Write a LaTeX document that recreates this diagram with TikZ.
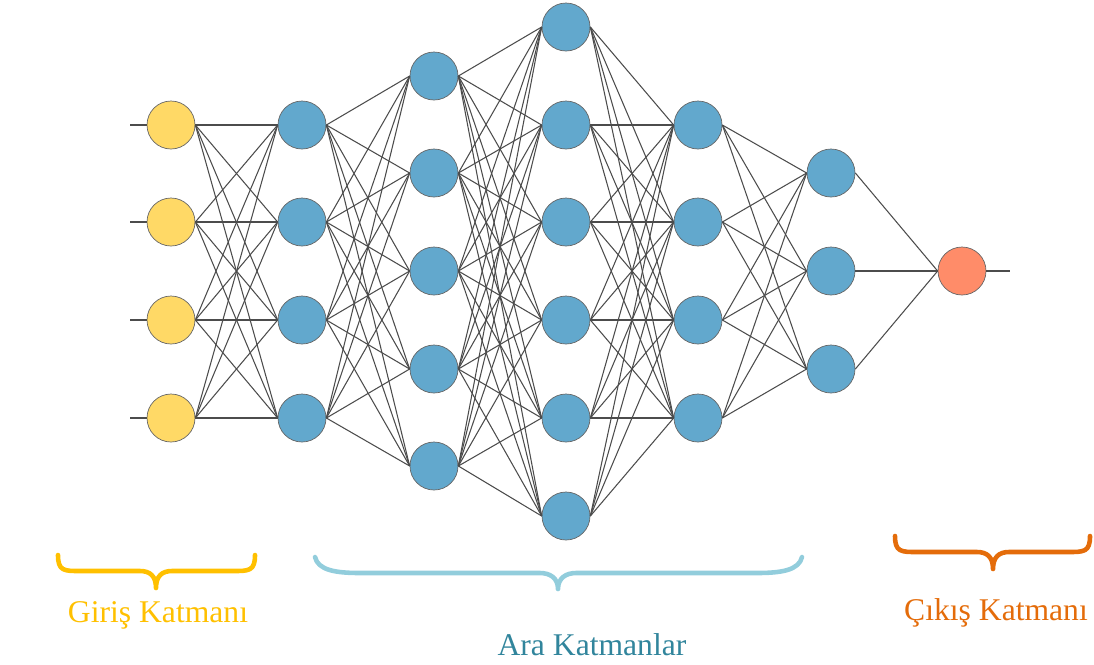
\documentclass[tikz,border=0pt]{standalone}
\usepackage{fontspec}
\setmainfont{Liberation Serif}
\definecolor{girisfill}{HTML}{FFD966}
\definecolor{arafill}{HTML}{62A8CD}
\definecolor{cikisfill}{HTML}{FF8C69}
\definecolor{girisyellow}{HTML}{FFC000}
\definecolor{arabrace}{HTML}{92CDDC}
\definecolor{aratext}{HTML}{31859C}
\definecolor{cikisorange}{HTML}{E46C0A}

\begin{document}
\begin{tikzpicture}
[
x=0.02cm, y=-0.02cm,
neuron/.style={circle, draw=black!60, thin, minimum size=0.96cm, inner sep=0},
girisneuron/.style={neuron, fill=girisfill},
araneuron/.style={neuron, fill=arafill},
cikisneuron/.style={neuron, fill=cikisfill},
synapse/.style={draw=black!70, line width=0.6pt},
layerbrace/.style={line width=2.6pt, line cap=round, line join=round},
layerlabel/.style={anchor=base, font=\fontsize{18}{20}\selectfont}
]
\useasboundingbox (0,0) rectangle (1094,664);
%Nodes
\node[girisneuron] (i1) at(171,125) {};
\node[girisneuron] (i2) at(171,222) {};
\node[girisneuron] (i3) at(171,320) {};
\node[girisneuron] (i4) at(171,418) {};

\node[araneuron] (a1) at(302,125) {};
\node[araneuron] (a2) at(302,222) {};
\node[araneuron] (a3) at(302,320) {};
\node[araneuron] (a4) at(302,418) {};

\node[araneuron] (b1) at(434,76) {};
\node[araneuron] (b2) at(434,173) {};
\node[araneuron] (b3) at(434,271) {};
\node[araneuron] (b4) at(434,369) {};
\node[araneuron] (b5) at(434,466) {};

\node[araneuron] (c1) at(566,27) {};
\node[araneuron] (c2) at(566,125) {};
\node[araneuron] (c3) at(566,222) {};
\node[araneuron] (c4) at(566,320) {};
\node[araneuron] (c5) at(566,418) {};
\node[araneuron] (c6) at(566,516) {};

\node[araneuron] (d1) at(698,125) {};
\node[araneuron] (d2) at(698,222) {};
\node[araneuron] (d3) at(698,320) {};
\node[araneuron] (d4) at(698,418) {};

\node[araneuron] (e1) at(831,173) {};
\node[araneuron] (e2) at(831,271) {};
\node[araneuron] (e3) at(831,369) {};

\node[cikisneuron] (o) at(962,271) {};

%Inputs and output
\coordinate (x1) at(130,125);
\coordinate (x2) at(130,222);
\coordinate (x3) at(130,320);
\coordinate (x4) at(130,418);
\coordinate (y) at(1010,271);
\foreach \i in {1,...,4}
  \draw[synapse] (x\i) -- (i\i.west);
\draw[synapse] (o.east) -- (y);

%Connections
\foreach \i in {1,...,4}
  \foreach \j in {1,...,4}
    \draw[synapse] (i\i.east) -- (a\j.west);
\foreach \i in {1,...,4}
  \foreach \j in {1,...,5}
    \draw[synapse] (a\i.east) -- (b\j.west);
\foreach \i in {1,...,5}
  \foreach \j in {1,...,6}
    \draw[synapse] (b\i.east) -- (c\j.west);
\foreach \i in {1,...,6}
  \foreach \j in {1,...,4}
    \draw[synapse] (c\i.east) -- (d\j.west);
\foreach \i in {1,...,4}
  \foreach \j in {1,...,3}
    \draw[synapse] (d\i.east) -- (e\j.west);
\foreach \i in {1,...,3}
  \draw[synapse] (e\i.east) -- (o.west);

%Braces
\draw[layerbrace, girisyellow] (58,555) .. controls (58,571) and (64,571) .. (80,571) -- (140,571)
  .. controls (150,571) and (156,576) .. (156,588) .. controls (156,576) and (162,571) .. (172,571)
  -- (233,571) .. controls (249,571) and (255,571) .. (255,555);
\draw[layerbrace, arabrace] (315,557) .. controls (318,570) and (335,573) .. (360,573) -- (540,573)
  .. controls (550,573) and (558,578) .. (558,589) .. controls (558,578) and (566,573) .. (576,573)
  -- (757,573) .. controls (782,573) and (799,570) .. (802,557);
\draw[layerbrace, cikisorange] (895,536) .. controls (895,552) and (901,552) .. (917,552) -- (977,552)
  .. controls (987,552) and (993,557) .. (993,569) .. controls (993,557) and (999,552) .. (1009,552)
  -- (1068,552) .. controls (1084,552) and (1090,552) .. (1090,536);

%Labels
\node[layerlabel, text=girisyellow] (girislabel) at(158,622) {Giriş Katmanı};
\node[layerlabel, text=aratext] (aralabel) at(592,655) {Ara Katmanlar};
\node[layerlabel, text=cikisorange] (cikislabel) at(996,620) {Çıkış Katmanı};

\end{tikzpicture}
\end{document}
